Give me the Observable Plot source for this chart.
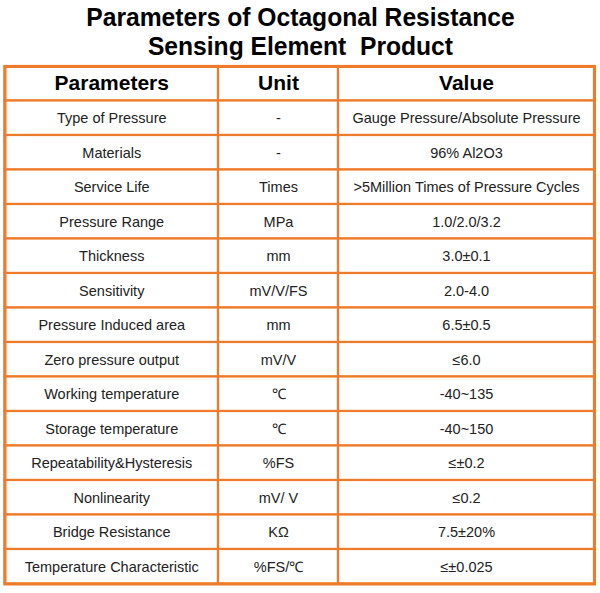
<!DOCTYPE html>
<html>
<head>
<meta charset="utf-8">
<script src="https://cdn.jsdelivr.net/npm/d3@7"></script>
<script src="https://cdn.jsdelivr.net/npm/@observablehq/plot@0.6"></script>
<style>
  html, body { margin: 0; padding: 0; background: #fff; }
  #title { height: 62px; box-sizing: border-box; padding-top: 3px; text-align: center; overflow: hidden; }
  #title span { display: inline-block; font-family: "Liberation Sans", Arial, sans-serif; font-weight: bold;
                font-size: 25px; line-height: 28.8px; color: #000; transform: scaleX(0.985); transform-origin: center; }
  #chart svg { display: block; }
</style>
</head>
<body>
<div id="title"><span>Parameters of Octagonal Resistance<br>Sensing Element&nbsp; Product</span></div>
<div id="chart"></div>
<script>
const headers = ["Parameters", "Unit", "Value"];
const parameters = ["Type of Pressure", "Materials", "Service Life", "Pressure Range", "Thickness", "Sensitivity",
  "Pressure Induced area", "Zero pressure output", "Working temperature", "Storage temperature",
  "Repeatability&Hysteresis", "Nonlinearity", "Bridge Resistance", "Temperature Characteristic"];
const units = ["-", "-", "Times", "MPa", "mm", "mV/V/FS", "mm", "mV/V", "℃", "℃", "%FS", "mV/ V", "KΩ", "%FS/℃"];
const values = ["Gauge Pressure/Absolute Pressure", "96% Al2O3", ">5Million Times of Pressure Cycles", "1.0/2.0/3.2",
  "3.0±0.1", "2.0-4.0", "6.5±0.5", "≤6.0", "-40~135", "-40~150", "≤±0.2", "≤0.2", "7.5±20%", "≤±0.025"];

// layout: column widths (table units)
const colWidths = [213.5, 120, 256];
const colEdges = [0];
colWidths.forEach(w => colEdges.push(colEdges[colEdges.length - 1] + w));

const orange = "#EE7A2B";
const rows = [headers, ...parameters.map((p, i) => [p, units[i], values[i]])];
const cells = [];
rows.forEach((r, ri) => r.forEach((t, ci) => cells.push({
  row: ri, col: ci, text: t, header: ri === 0,
  x1: colEdges[ci], x2: colEdges[ci + 1], xm: (colEdges[ci] + colEdges[ci + 1]) / 2
})));

const chart = Plot.plot({
  width: 600,
  height: 531,
  marginTop: 4,
  marginBottom: 9.5,
  marginLeft: 4.5,
  marginRight: 6,
  x: {domain: [0, colEdges[colEdges.length - 1]], axis: null},
  y: {type: "band", domain: d3.range(rows.length), padding: 0, round: false, axis: null},
  style: {fontFamily: "'Liberation Sans', Arial, sans-serif", background: "white"},
  marks: [
    Plot.barX(cells, {x1: "x1", x2: "x2", y: "row", fill: "white", stroke: orange, strokeWidth: 2.2, insetTop: 0, insetBottom: 0}),
    Plot.frame({stroke: orange, strokeWidth: 3}),
    Plot.text(cells.filter(d => d.header), {x: "xm", y: "row", text: "text", fontSize: 21, fontWeight: "bold", fill: "#000", dy: -0.5}),
    Plot.text(cells.filter(d => !d.header), {x: "xm", y: "row", text: "text", fontSize: 14.5, fill: "#222", dy: 0.5})
  ]
});
document.getElementById("chart").appendChild(chart);
</script>
</body>
</html>
